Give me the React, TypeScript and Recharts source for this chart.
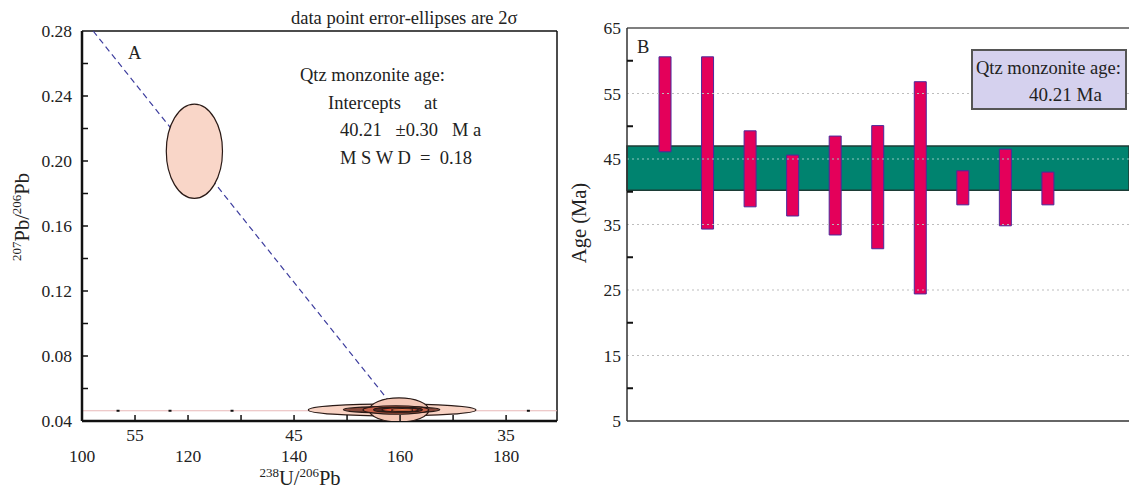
import React from 'react';
import { ComposedChart, Scatter, Bar, XAxis, YAxis, ReferenceLine, ReferenceArea } from 'recharts';

const FONT = '"Liberation Serif", "DejaVu Serif", serif';

// ---- panel A: concordia plot ----
const aXTicks = [100, 110, 120, 130, 140, 150, 160, 170, 180];
const aXMainLabels = [100, 120, 140, 160, 180];
const aAgeTicks = [110, 140, 180];
const aAgeLabels = ['55', '45', '35'];
const aYTicks = [0.04, 0.06, 0.08, 0.1, 0.12, 0.14, 0.16, 0.18, 0.2, 0.22, 0.24, 0.26, 0.28];

const concordiaY = 0.0463;
const ageMarkerX = [106.8, 116.6, 128.3, 184.2];
const discordia = [
  { x: 102.1, y: 0.28 },
  { x: 160.9, y: 0.04 },
];

// error ellipses: centre, half-widths (data units)
const ellipseCx = [121.2, 158.5, 159.8, 158.4, 159.2, 159.6, 160.0, 160.4];
const ellipseCy = [0.206, 0.0468, 0.0468, 0.0470, 0.0468, 0.0470, 0.0469, 0.0468];
const ellipseRx = [5.3, 15.8, 5.6, 9.1, 6.2, 4.6, 3.4, 2.0];
const ellipseRy = [0.029, 0.0037, 0.0074, 0.0019, 0.0026, 0.0016, 0.0013, 0.0009];
const ellipseFill = ['#f9d6c8', '#f8d2c3', '#f5c7b6', '#8a4a3c', '#c8624a', '#5a2a22', '#e2563a', '#f07a4f'];

// ---- panel B: ages ----
const grainIdx = [1, 2, 3, 4, 5, 6, 7, 8, 9, 10];
const ageLow = [46.1, 34.3, 37.7, 36.3, 33.4, 31.3, 24.4, 38.0, 34.8, 38.0];
const ageHigh = [60.6, 60.6, 49.3, 45.6, 48.5, 50.1, 56.8, 43.2, 46.5, 43.0];
const bYTicks = [5, 10, 15, 20, 25, 30, 35, 40, 45, 50, 55, 60, 65];
const bGrid = [15, 25, 35, 45, 55];
const meanAge = 40.21;
const bandTop = 47.0;

const A_W = 565;
const A_H = 490;
const A_MARGIN = { top: 31, right: 8, bottom: 29, left: 0 };
const A_YW = 82;
const A_XH = 40;
const A_XMIN = 100;
const A_XMAX = 189.6;
const A_YMIN = 0.04;
const A_YMAX = 0.28;
const KX = (A_W - A_MARGIN.left - A_MARGIN.right - A_YW) / (A_XMAX - A_XMIN);
const KY = (A_H - A_MARGIN.top - A_MARGIN.bottom - A_XH) / (A_YMAX - A_YMIN);

const ellipses = ellipseCx.map((x, i) => ({
  x,
  y: ellipseCy[i],
  rx: ellipseRx[i],
  ry: ellipseRy[i],
  fill: ellipseFill[i],
}));
const markers = ageMarkerX.map((x) => ({ x, y: concordiaY }));
const bars = grainIdx.map((x, i) => ({ x, range: [ageLow[i], ageHigh[i]] }));

const EllipseShape = (props: any) => {
  const { cx, cy, payload } = props;
  return (
    <ellipse
      cx={cx}
      cy={cy}
      rx={payload.rx * KX}
      ry={payload.ry * KY}
      fill={payload.fill}
      stroke="#2a1a16"
      strokeWidth={1.2}
    />
  );
};

const MarkerShape = (props: any) => <rect x={props.cx - 1.5} y={props.cy - 1} width={3} height={2} fill="#111" />;

const AXTick = (props: any) => {
  const { x, y, payload } = props;
  const v = payload.value;
  const ai = aAgeTicks.indexOf(v);
  return (
    <g>
      {v > A_XMIN && <line x1={x} x2={x} y1={y} y2={y - 6} stroke="#111" strokeWidth={1.5} />}
      {ai >= 0 && (
        <text x={x} y={y + 20} textAnchor="middle" fontSize={17.5} fontFamily={FONT} fill="#222">
          {aAgeLabels[ai]}
        </text>
      )}
      {aXMainLabels.includes(v) && (
        <text x={x} y={y + 41} textAnchor="middle" fontSize={17.5} fontFamily={FONT} fill="#222">
          {v}
        </text>
      )}
    </g>
  );
};

const AYTick = (props: any) => {
  const { x, y, payload } = props;
  const v = payload.value;
  const labelled = Math.round(v * 100) % 4 === 0;
  return (
    <g>
      {v > A_YMIN && v < A_YMAX && <line x1={x} x2={x + 6} y1={y} y2={y} stroke="#111" strokeWidth={1.5} />}
      {labelled && (
        <text x={x - 10} y={y + 6} textAnchor="end" fontSize={17.5} fontFamily={FONT} fill="#222">
          {v.toFixed(2)}
        </text>
      )}
    </g>
  );
};

const BYTick = (props: any) => {
  const { x, y, payload } = props;
  const v = payload.value;
  return (
    <g>
      {v % 10 === 0 && <line x1={x} x2={x + 6} y1={y} y2={y} stroke="#111" strokeWidth={2} />}
      {v % 10 === 5 && (
        <text x={x - 6} y={y + 6} textAnchor="end" fontSize={17.5} fontFamily={FONT} fill="#222">
          {v}
        </text>
      )}
    </g>
  );
};

const txt: React.CSSProperties = {
  position: 'absolute',
  fontFamily: FONT,
  fontSize: 18.5,
  lineHeight: '20px',
  color: '#222',
  whiteSpace: 'pre',
};

const sup: React.CSSProperties = { fontSize: 13, verticalAlign: 'super', lineHeight: 0 };

const App: React.FC = () => {
  return (
    <div style={{ position: 'absolute', left: 0, top: 0, width: 1129, height: 490, background: '#fff', overflow: 'hidden' }}>
      <div style={{ position: 'absolute', left: 0, top: 0 }}>
        <ComposedChart width={A_W} height={A_H} margin={A_MARGIN}>
          <XAxis
            type="number"
            dataKey="x"
            domain={[A_XMIN, A_XMAX]}
            ticks={aXTicks}
            height={A_XH}
            tickLine={false}
            tickSize={0}
            tickMargin={0}
            tick={<AXTick />}
            axisLine={{ stroke: '#111', strokeWidth: 2.5 }}
            allowDataOverflow
          />
          <YAxis
            type="number"
            dataKey="y"
            domain={[A_YMIN, A_YMAX]}
            ticks={aYTicks}
            width={A_YW}
            tickLine={false}
            tickSize={0}
            tickMargin={0}
            tick={<AYTick />}
            axisLine={{ stroke: '#111', strokeWidth: 2.5 }}
            allowDataOverflow
          />
          <ReferenceLine y={A_YMAX} stroke="#111" strokeWidth={1.5} />
          <ReferenceLine x={A_XMAX} stroke="#111" strokeWidth={1.5} />
          <ReferenceLine y={concordiaY} stroke="#e8b9b9" strokeWidth={1.2} />
          <Scatter data={ellipses} shape={<EllipseShape />} isAnimationActive={false} />
          <Scatter data={markers} shape={<MarkerShape />} isAnimationActive={false} />
          <ReferenceLine segment={discordia} stroke="#3d3d9e" strokeWidth={1.2} strokeDasharray="6 4" />
        </ComposedChart>
      </div>

      <div style={{ position: 'absolute', left: A_W, top: 0 }}>
        <ComposedChart width={1129 - A_W} height={490} data={bars} margin={{ top: 28, right: 0, bottom: 69, left: 0 }}>
          <XAxis type="number" dataKey="x" domain={[0.1, 11.9]} hide />
          <YAxis
            type="number"
            domain={[5, 65]}
            ticks={bYTicks}
            width={62}
            tickLine={false}
            tickSize={0}
            tickMargin={0}
            tick={<BYTick />}
            axisLine={{ stroke: '#333', strokeWidth: 1.5 }}
            allowDataOverflow
          />
          <ReferenceLine y={65} stroke="#555" strokeWidth={1.5} />
          <ReferenceLine y={5} stroke="#333" strokeWidth={1.5} />
          <ReferenceArea y1={meanAge} y2={bandTop} fill="#00836f" fillOpacity={1} stroke="#1c3c36" strokeWidth={1.5} />
          {bGrid.map((g) => (
            <ReferenceLine
              key={g}
              y={g}
              stroke={g === 45 ? '#8fc7bd' : '#bdbdbd'}
              strokeWidth={1.2}
              strokeDasharray="2 3"
            />
          ))}
          <Bar dataKey="range" barSize={12} fill="#e4005a" stroke="#4a2a9c" strokeWidth={1} isAnimationActive={false} />
        </ComposedChart>
      </div>

      {/* panel A texts */}
      <div style={{ ...txt, left: 291, top: 8 }}>data point error-ellipses are 2σ</div>
      <div style={{ ...txt, left: 128, top: 43 }}>A</div>
      <div style={{ ...txt, left: 300, top: 65 }}>Qtz monzonite age:</div>
      <div style={{ ...txt, left: 328, top: 93 }}>{'Intercepts     at'}</div>
      <div style={{ ...txt, left: 340, top: 120 }}>{'40.21   ±0.30   M a'}</div>
      <div style={{ ...txt, left: 340, top: 148 }}>{'M S W D  =  0.18'}</div>
      <div style={{ ...txt, fontSize: 20.5, left: 300, top: 478, transform: 'translate(-50%, -50%)' }}>
        <span style={sup}>238</span>U/<span style={sup}>206</span>Pb
      </div>
      <div style={{ ...txt, fontSize: 20.5, left: 22, top: 217, transform: 'translate(-50%, -50%) rotate(-90deg)' }}>
        <span style={sup}>207</span>Pb/<span style={sup}>206</span>Pb
      </div>

      {/* panel B texts */}
      <div style={{ ...txt, left: 637, top: 37 }}>B</div>
      <div style={{ ...txt, fontSize: 20.5, left: 579, top: 223, transform: 'translate(-50%, -50%) rotate(-90deg)' }}>
        Age (Ma)
      </div>
      <div
        style={{
          position: 'absolute',
          left: 971,
          top: 49,
          width: 152,
          height: 57,
          background: '#d5d1ee',
          border: '2px solid #555',
        }}
      />
      <div style={{ ...txt, fontSize: 18.5, left: 976, top: 58 }}>Qtz monzonite age:</div>
      <div style={{ ...txt, fontSize: 19, left: 1029, top: 85 }}>40.21 Ma</div>
    </div>
  );
};

export default App;
